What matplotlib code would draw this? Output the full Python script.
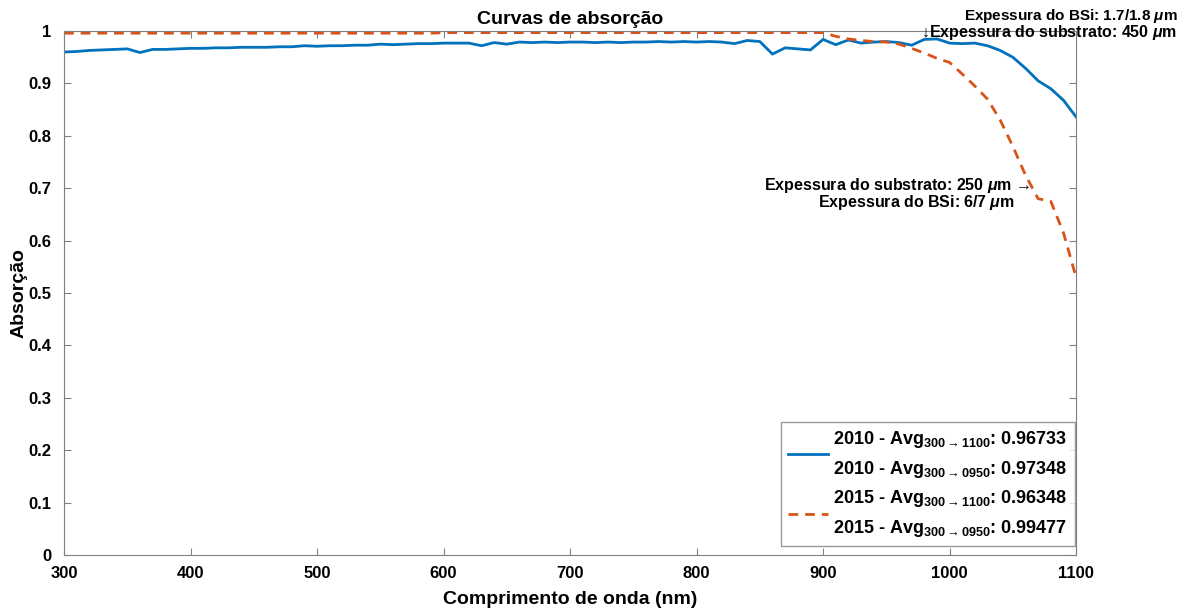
import matplotlib
matplotlib.use("Agg")
import matplotlib.pyplot as plt
import numpy as np

plt.rcParams['font.family'] = ['Liberation Sans', 'DejaVu Sans']
plt.rcParams['font.weight'] = 'bold'
plt.rcParams['mathtext.fontset'] = 'custom'
plt.rcParams['mathtext.rm'] = 'Liberation Sans:bold'
plt.rcParams['mathtext.bf'] = 'Liberation Sans:bold'
plt.rcParams['mathtext.it'] = 'Liberation Sans:italic'
plt.rcParams['mathtext.default'] = 'bf'

# Comprimento de onda (nm)
wl = np.arange(300, 1101, 10)

# 2010
abs_2010 = [0.960, 0.961, 0.963, 0.964, 0.965, 0.966, 0.959, 0.965, 0.965, 0.966,
            0.967, 0.967, 0.968, 0.968, 0.969, 0.969, 0.969, 0.970, 0.970, 0.972,
            0.971, 0.972, 0.972, 0.973, 0.973, 0.975, 0.974, 0.975, 0.976, 0.976,
            0.977, 0.977, 0.977, 0.972, 0.978, 0.975, 0.979, 0.978, 0.979, 0.978,
            0.979, 0.979, 0.978, 0.979, 0.978, 0.979, 0.979, 0.980, 0.979, 0.980,
            0.979, 0.980, 0.979, 0.976, 0.982, 0.980, 0.956, 0.968, 0.966, 0.964,
            0.984, 0.974, 0.983, 0.977, 0.979, 0.980, 0.978, 0.973, 0.984, 0.985,
            0.977, 0.976, 0.977, 0.972, 0.963, 0.950, 0.929, 0.905, 0.890, 0.868,
            0.836]

# 2015
abs_2015 = [0.996, 0.996, 0.996, 0.996, 0.996, 0.996, 0.996, 0.996, 0.996, 0.996,
            0.996, 0.996, 0.996, 0.996, 0.996, 0.996, 0.996, 0.996, 0.996, 0.996,
            0.996, 0.996, 0.996, 0.996, 0.996, 0.996, 0.996, 0.996, 0.996, 0.996,
            0.997, 0.997, 0.997, 0.997, 0.997, 0.997, 0.997, 0.997, 0.997, 0.997,
            0.997, 0.997, 0.997, 0.997, 0.997, 0.997, 0.997, 0.997, 0.997, 0.997,
            0.997, 0.997, 0.997, 0.997, 0.997, 0.997, 0.997, 0.997, 0.997, 0.997,
            0.997, 0.990, 0.985, 0.982, 0.980, 0.979, 0.975, 0.967, 0.958, 0.948,
            0.940, 0.918, 0.895, 0.870, 0.830, 0.780, 0.725, 0.680, 0.675, 0.615,
            0.530]

lab_2010 = ('2010 - Avg$_{300\\rightarrow1100}$: 0.96733\n'
            '2010 - Avg$_{300\\rightarrow0950}$: 0.97348')
lab_2015 = ('2015 - Avg$_{300\\rightarrow1100}$: 0.96348\n'
            '2015 - Avg$_{300\\rightarrow0950}$: 0.99477')

fig = plt.figure(figsize=(11.97, 6.09), dpi=100)
ax = fig.add_axes([0.0535, 0.0887, 0.8455, 0.8603])

ax.plot(wl, abs_2010, color='#0072BD', lw=2, label=lab_2010)
ax.plot(wl, abs_2015, color='#D95319', lw=2, dashes=(3.5, 2.5), label=lab_2015)

ax.set_xlim(300, 1100)
ax.set_ylim(0, 1)
ax.set_xticks(np.arange(300, 1101, 100))
ax.set_yticks(np.arange(0, 1.01, 0.1))
ax.set_yticklabels(['0', '0.1', '0.2', '0.3', '0.4', '0.5', '0.6', '0.7', '0.8', '0.9', '1'])
ax.tick_params(direction='in', top=True, right=True, color='#808080',
               labelsize=12, length=5)
ax.tick_params(axis='x', pad=8)
ax.tick_params(axis='y', pad=9)
for s in ax.spines.values():
    s.set_color('#808080')

ax.set_title('Curvas de absorção', fontsize=14, fontweight='bold', pad=5)
ax.set_xlabel('Comprimento de onda (nm)', fontsize=14, fontweight='bold', labelpad=7)
ax.set_ylabel('Absorção', fontsize=14, fontweight='bold', labelpad=1)

ax.text(1180, 1.029, 'Expessura do BSi: 1.7/1.8 $\\mathit{\\mu}$m', ha='right', va='center',
        fontsize=11, fontweight='bold', clip_on=False)
ax.text(1180, 0.998, '\u2193Expessura do substrato: 450 $\\mathit{\\mu}$m', ha='right',
        va='center', fontsize=11.5, fontweight='bold', clip_on=False)
ax.text(1064, 0.706, 'Expessura do substrato: 250 $\\mathit{\\mu}$m \u2192', ha='right',
        va='center', fontsize=11.5, fontweight='bold')
ax.text(1051, 0.673, 'Expessura do BSi: 6/7 $\\mathit{\\mu}$m', ha='right', va='center',
        fontsize=11.5, fontweight='bold')

leg = ax.legend(loc='lower right', bbox_to_anchor=(0.999, 0.017), fontsize=13,
                handlelength=2.2, borderaxespad=0, fancybox=False, edgecolor='#808080',
                labelspacing=0.45, handletextpad=0.3, borderpad=0.4)
leg.get_frame().set_linewidth(1)
for t in leg.get_texts():
    t.set_linespacing(1.6)

fig.savefig('out.png', dpi=100)
